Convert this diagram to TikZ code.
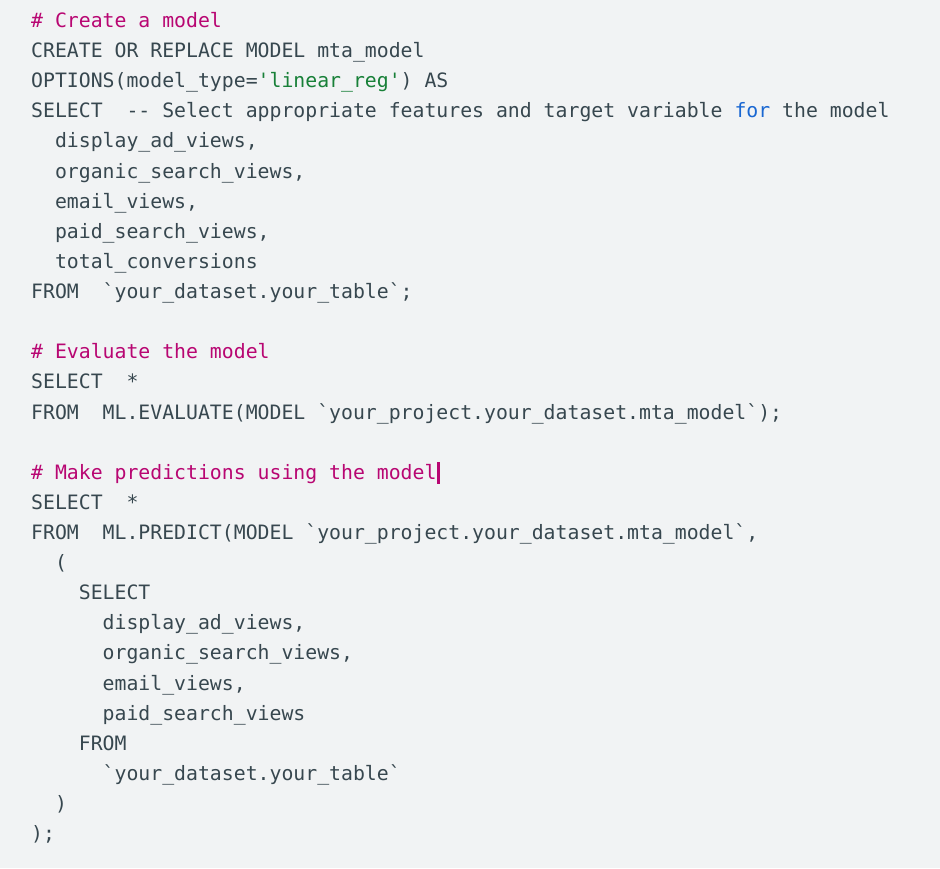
\documentclass[tikz,border=0pt]{standalone}
\usepackage{fontspec}
\newfontfamily\codefont{DejaVu Sans Mono}
\definecolor{codebg}{HTML}{F1F3F4}
\definecolor{codetext}{HTML}{37474F}
\definecolor{codecom}{HTML}{B80672}
\definecolor{codestr}{HTML}{188038}
\definecolor{codekwd}{HTML}{1967D2}
\newcommand{\com}[1]{\textcolor{codecom}{#1}}
\newcommand{\str}[1]{\textcolor{codestr}{#1}}
\newcommand{\kwd}[1]{\textcolor{codekwd}{#1}}
\tikzset{codeline/.style={anchor=base west,inner sep=0pt,text=codetext,
    font=\codefont\fontsize{19.8}{30}\selectfont}}
\begin{document}
\begin{tikzpicture}[x=1pt,y=-1pt]
\fill[codebg] (0,0) rectangle (940,868);
\useasboundingbox (0,0) rectangle (940,868);

% create
\node[codeline] (L1) at (31,27.5) {\com{\#~Create~a~model}};
\node[codeline] (L2) at (31,57.6) {CREATE~OR~REPLACE~MODEL~mta\_model};
\node[codeline] (L3) at (31,87.7) {OPTIONS(model\_type=\str{'linear\_reg'})~AS};
\node[codeline] (L4) at (31,117.8) {SELECT~~--~Select~appropriate~features~and~target~variable~\kwd{for}~the~model};
\node[codeline] (L5) at (31,147.9) {~~display\_ad\_views,};
\node[codeline] (L6) at (31,178.1) {~~organic\_search\_views,};
\node[codeline] (L7) at (31,208.2) {~~email\_views,};
\node[codeline] (L8) at (31,238.3) {~~paid\_search\_views,};
\node[codeline] (L9) at (31,268.4) {~~total\_conversions};
\node[codeline] (L10) at (31,298.5) {FROM~~`your\_dataset.your\_table`;};

% evaluate
\node[codeline] (L12) at (31,358.7) {\com{\#~Evaluate~the~model}};
\node[codeline] (L13) at (31,388.8) {SELECT~~*};
\node[codeline] (L14) at (31,419.0) {FROM~~ML.EVALUATE(MODEL~`your\_project.your\_dataset.mta\_model`);};

% predict
\node[codeline] (L16) at (31,479.2) {\com{\#~Make~predictions~using~the~model}};
\node[codeline] (L17) at (31,509.3) {SELECT~~*};
\node[codeline] (L18) at (31,539.4) {FROM~~ML.PREDICT(MODEL~`your\_project.your\_dataset.mta\_model`,};
\node[codeline] (L19) at (31,569.5) {~~(};
\node[codeline] (L20) at (31,599.6) {~~~~SELECT};
\node[codeline] (L21) at (31,629.8) {~~~~~~display\_ad\_views,};
\node[codeline] (L22) at (31,659.9) {~~~~~~organic\_search\_views,};
\node[codeline] (L23) at (31,690.0) {~~~~~~email\_views,};
\node[codeline] (L24) at (31,720.1) {~~~~~~paid\_search\_views};
\node[codeline] (L25) at (31,750.2) {~~~~FROM};
\node[codeline] (L26) at (31,780.3) {~~~~~~`your\_dataset.your\_table`};
\node[codeline] (L27) at (31,810.4) {~~)};
\node[codeline] (L28) at (31,840.5) {);};

% cursor
\draw[codecom,line width=2.4pt] (438.5,462) -- (438.5,484);
\end{tikzpicture}
\end{document}
